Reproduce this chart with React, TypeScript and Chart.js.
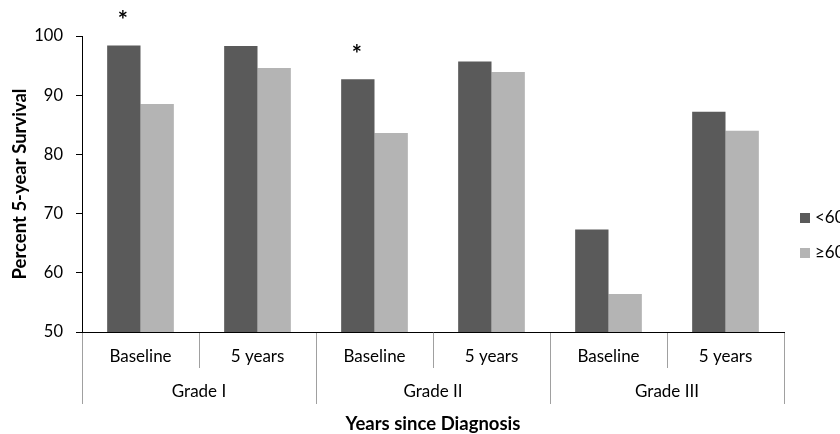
import React, { useEffect, useRef } from 'react';
import { Chart, registerables } from 'chart.js';

Chart.register(...registerables);

const categories = ['Baseline', '5 years', 'Baseline', '5 years', 'Baseline', '5 years'];
const grades = ['Grade I', 'Grade II', 'Grade III'];
const under60 = [98.4, 98.3, 92.7, 95.7, 67.3, 87.2];
const over60 = [88.5, 94.6, 83.6, 93.9, 56.4, 84.0];
const significant = [true, false, true, false, false, false];
const seriesLabels = ['<60', '≥60'];
const seriesColors = ['#5a5a5a', '#b4b4b4'];
const yMin = 50;
const yMax = 100;
const yStep = 10;
const yTitle = 'Percent 5-year Survival';
const xTitle = 'Years since Diagnosis';

const FONT = 'Lato, "Open Sans", sans-serif';

const overlay = {
  id: 'overlay',
  afterDraw(chart: any) {
    const ctx = chart.ctx;
    const x = chart.scales.x;
    const area = chart.chartArea;
    const n = categories.length;
    const step = x.getPixelForValue(1) - x.getPixelForValue(0);
    ctx.save();
    // category separators
    ctx.strokeStyle = '#a0a0a0';
    ctx.lineWidth = 1;
    for (let i = 0; i <= n; i++) {
      const px = Math.round(x.getPixelForValue(0) - step / 2 + i * step) + 0.5;
      const isGroup = i % 2 === 0;
      ctx.beginPath();
      ctx.moveTo(px, area.bottom + 1);
      ctx.lineTo(px, area.bottom + (isGroup ? 72 : 36));
      ctx.stroke();
    }
    // grade labels
    ctx.fillStyle = '#000';
    ctx.font = `17px ${FONT}`;
    ctx.textAlign = 'center';
    ctx.textBaseline = 'middle';
    grades.forEach((g, gi) => {
      const cx = (x.getPixelForValue(gi * 2) + x.getPixelForValue(gi * 2 + 1)) / 2;
      ctx.fillText(g, cx, area.bottom + 60);
    });
    // x title
    ctx.font = `bold 18.5px ${FONT}`;
    ctx.fillText(xTitle, (area.left + area.right) / 2, area.bottom + 92);
    // asterisks
    const meta = chart.getDatasetMeta(0);
    ctx.font = `bold 24px ${FONT}`;
    ctx.textBaseline = 'alphabetic';
    significant.forEach((s, i) => {
      if (s) {
        const el = meta.data[i];
        ctx.fillText('*', el.x - 1, el.y - 16);
      }
    });
    // legend
    ctx.font = `17px ${FONT}`;
    ctx.textAlign = 'left';
    ctx.textBaseline = 'middle';
    seriesLabels.forEach((lab, i) => {
      const cy = area.top + 182 + i * 35;
      ctx.fillStyle = seriesColors[i];
      ctx.fillRect(area.right + 16, cy - 5, 10, 10);
      ctx.fillStyle = '#000';
      ctx.fillText(lab, area.right + 31, cy);
    });
    ctx.restore();
  },
};

export default function App() {
  const ref = useRef<HTMLCanvasElement>(null);
  useEffect(() => {
    const chart = new Chart(ref.current!, {
      type: 'bar',
      data: {
        labels: categories,
        datasets: [
          { label: seriesLabels[0], data: under60, backgroundColor: seriesColors[0] },
          { label: seriesLabels[1], data: over60, backgroundColor: seriesColors[1] },
        ],
      },
      options: {
        responsive: false,
        animation: false,
        layout: { padding: { top: 36, right: 56, left: 0, bottom: 0 } },
        datasets: { bar: { categoryPercentage: 0.57, barPercentage: 1 } },
        plugins: { legend: { display: false }, tooltip: { enabled: false } },
        scales: {
          x: {
            grid: { display: false, drawTicks: false },
            border: { display: true, color: '#000', width: 1 },
            ticks: { color: '#000', font: { family: FONT, size: 17 }, padding: 14, maxRotation: 0 },
            afterFit: (s: any) => { s.height = 102; },
          },
          y: {
            min: yMin,
            max: yMax,
            grid: { display: true, drawOnChartArea: false, drawTicks: true, tickLength: 6, color: '#000' },
            border: { display: true, color: '#000', width: 1 },
            ticks: { stepSize: yStep, color: '#000', font: { family: FONT, size: 16.5 }, padding: 13 },
            title: { display: true, text: yTitle, color: '#000', font: { family: FONT, size: 18.5, weight: 'bold' }, padding: { top: 9, bottom: 0 } },
            afterFit: (s: any) => { s.width = 82; },
          },
        },
      },
      plugins: [overlay],
    });
    return () => chart.destroy();
  }, []);
  return (
    <div style={{ position: 'fixed', left: 0, top: 0, width: 840, height: 434, background: '#fff' }}>
      <canvas ref={ref} width={840} height={434} />
    </div>
  );
}
